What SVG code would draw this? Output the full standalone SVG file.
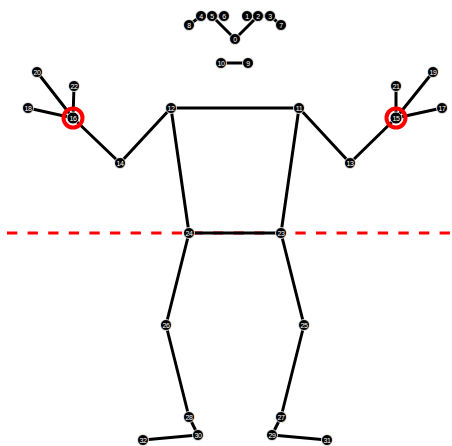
<svg xmlns="http://www.w3.org/2000/svg" width="452" height="446" viewBox="0 0 452 446">
  <style>
    .bone { stroke: #000; stroke-width: 3; stroke-linecap: round; fill: none; }
    .kp circle.dot { fill: #000; stroke: #fff; stroke-width: 0.8; }
    .kp circle.ring { fill: none; stroke: #f00; stroke-width: 4; }
    .kp text { fill: #fff; font-family: "Liberation Sans", Arial, sans-serif; font-size: 7px; text-anchor: middle; dominant-baseline: central; letter-spacing: -0.5px; }
    .ground { stroke: #f00; stroke-width: 3; stroke-dasharray: 10.3 10.3; }
  </style>
  <rect width="452" height="446" fill="#fff"/>

  <line class="ground" x1="7" y1="233" x2="452" y2="233"/>

  <g id="connectors">
    <!-- face -->
    <line class="bone" x1="235" y1="39" x2="212" y2="16"/>
    <line class="bone" x1="189" y1="25" x2="201" y2="16"/>
    <line class="bone" x1="201" y1="16" x2="224" y2="16"/>
    <line class="bone" x1="235" y1="39" x2="258" y2="16"/>
    <line class="bone" x1="247" y1="16" x2="270" y2="16"/>
    <line class="bone" x1="270" y1="16" x2="281" y2="25"/>
    <line class="bone" x1="221" y1="63" x2="248" y2="63"/>
    <!-- torso -->
    <line class="bone" x1="171" y1="108" x2="299" y2="108"/>
    <line class="bone" x1="171" y1="108" x2="189" y2="233"/>
    <line class="bone" x1="299" y1="108" x2="281" y2="233"/>
    <line class="bone" x1="189" y1="233" x2="281" y2="233"/>
    <!-- left arm -->
    <line class="bone" x1="171" y1="108" x2="120" y2="163"/>
    <line class="bone" x1="120" y1="163" x2="73" y2="118"/>
    <line class="bone" x1="73" y1="118" x2="28" y2="108"/>
    <line class="bone" x1="73" y1="118" x2="37" y2="72"/>
    <line class="bone" x1="73" y1="118" x2="74" y2="86"/>
    <!-- right arm -->
    <line class="bone" x1="299" y1="108" x2="350" y2="163"/>
    <line class="bone" x1="350" y1="163" x2="396" y2="118"/>
    <line class="bone" x1="396" y1="118" x2="442" y2="108"/>
    <line class="bone" x1="396" y1="118" x2="433" y2="72"/>
    <line class="bone" x1="396" y1="118" x2="396" y2="86"/>
    <!-- legs -->
    <line class="bone" x1="189" y1="233" x2="166" y2="325"/>
    <line class="bone" x1="166" y1="325" x2="189" y2="417"/>
    <line class="bone" x1="189" y1="417" x2="198" y2="435"/>
    <line class="bone" x1="198" y1="435" x2="143" y2="440"/>
    <line class="bone" x1="281" y1="233" x2="304" y2="325"/>
    <line class="bone" x1="304" y1="325" x2="281" y2="417"/>
    <line class="bone" x1="281" y1="417" x2="272" y2="435"/>
    <line class="bone" x1="272" y1="435" x2="327" y2="440"/>
  </g>

  <g id="kp8" class="kp"><circle class="dot" cx="189" cy="25" r="5.5"/><text x="189" y="25">8</text></g>
  <g id="kp4" class="kp"><circle class="dot" cx="201" cy="16" r="5.5"/><text x="201" y="16">4</text></g>
  <g id="kp5" class="kp"><circle class="dot" cx="212" cy="16" r="5.5"/><text x="212" y="16">5</text></g>
  <g id="kp6" class="kp"><circle class="dot" cx="224" cy="16" r="5.5"/><text x="224" y="16">6</text></g>
  <g id="kp1" class="kp"><circle class="dot" cx="247" cy="16" r="5.5"/><text x="247" y="16">1</text></g>
  <g id="kp2" class="kp"><circle class="dot" cx="258" cy="16" r="5.5"/><text x="258" y="16">2</text></g>
  <g id="kp3" class="kp"><circle class="dot" cx="270" cy="16" r="5.5"/><text x="270" y="16">3</text></g>
  <g id="kp7" class="kp"><circle class="dot" cx="281" cy="25" r="5.5"/><text x="281" y="25">7</text></g>
  <g id="kp0" class="kp"><circle class="dot" cx="235" cy="39" r="5.5"/><text x="235" y="39">0</text></g>
  <g id="kp10" class="kp"><circle class="dot" cx="221" cy="63" r="5.5"/><text x="221" y="63">10</text></g>
  <g id="kp9" class="kp"><circle class="dot" cx="248" cy="63" r="5.5"/><text x="248" y="63">9</text></g>
  <g id="kp12" class="kp"><circle class="dot" cx="171" cy="108" r="5.5"/><text x="171" y="108">12</text></g>
  <g id="kp11" class="kp"><circle class="dot" cx="299" cy="108" r="5.5"/><text x="299" y="108">11</text></g>
  <g id="kp14" class="kp"><circle class="dot" cx="120" cy="163" r="5.5"/><text x="120" y="163">14</text></g>
  <g id="kp13" class="kp"><circle class="dot" cx="350" cy="163" r="5.5"/><text x="350" y="163">13</text></g>
  <g id="kp16" class="kp"><circle class="ring" cx="73" cy="118" r="9.5"/><circle class="dot" cx="73" cy="118" r="6"/><text x="73" y="118">16</text></g>
  <g id="kp15" class="kp"><circle class="ring" cx="396" cy="118" r="9.5"/><circle class="dot" cx="396" cy="118" r="6"/><text x="396" y="118">15</text></g>
  <g id="kp18" class="kp"><circle class="dot" cx="28" cy="108" r="5.5"/><text x="28" y="108">18</text></g>
  <g id="kp20" class="kp"><circle class="dot" cx="37" cy="72" r="5.5"/><text x="37" y="72">20</text></g>
  <g id="kp22" class="kp"><circle class="dot" cx="74" cy="86" r="5.5"/><text x="74" y="86">22</text></g>
  <g id="kp17" class="kp"><circle class="dot" cx="442" cy="108" r="5.5"/><text x="442" y="108">17</text></g>
  <g id="kp19" class="kp"><circle class="dot" cx="433" cy="72" r="5.5"/><text x="433" y="72">19</text></g>
  <g id="kp21" class="kp"><circle class="dot" cx="396" cy="86" r="5.5"/><text x="396" y="86">21</text></g>
  <g id="kp24" class="kp"><circle class="dot" cx="189" cy="233" r="5.5"/><text x="189" y="233">24</text></g>
  <g id="kp23" class="kp"><circle class="dot" cx="281" cy="233" r="5.5"/><text x="281" y="233">23</text></g>
  <g id="kp26" class="kp"><circle class="dot" cx="166" cy="325" r="5.5"/><text x="166" y="325">26</text></g>
  <g id="kp25" class="kp"><circle class="dot" cx="304" cy="325" r="5.5"/><text x="304" y="325">25</text></g>
  <g id="kp28" class="kp"><circle class="dot" cx="189" cy="417" r="5.5"/><text x="189" y="417">28</text></g>
  <g id="kp27" class="kp"><circle class="dot" cx="281" cy="417" r="5.5"/><text x="281" y="417">27</text></g>
  <g id="kp30" class="kp"><circle class="dot" cx="198" cy="435" r="5.5"/><text x="198" y="435">30</text></g>
  <g id="kp29" class="kp"><circle class="dot" cx="272" cy="435" r="5.5"/><text x="272" y="435">29</text></g>
  <g id="kp32" class="kp"><circle class="dot" cx="143" cy="440" r="5.5"/><text x="143" y="440">32</text></g>
  <g id="kp31" class="kp"><circle class="dot" cx="327" cy="440" r="5.5"/><text x="327" y="440">31</text></g>
</svg>
